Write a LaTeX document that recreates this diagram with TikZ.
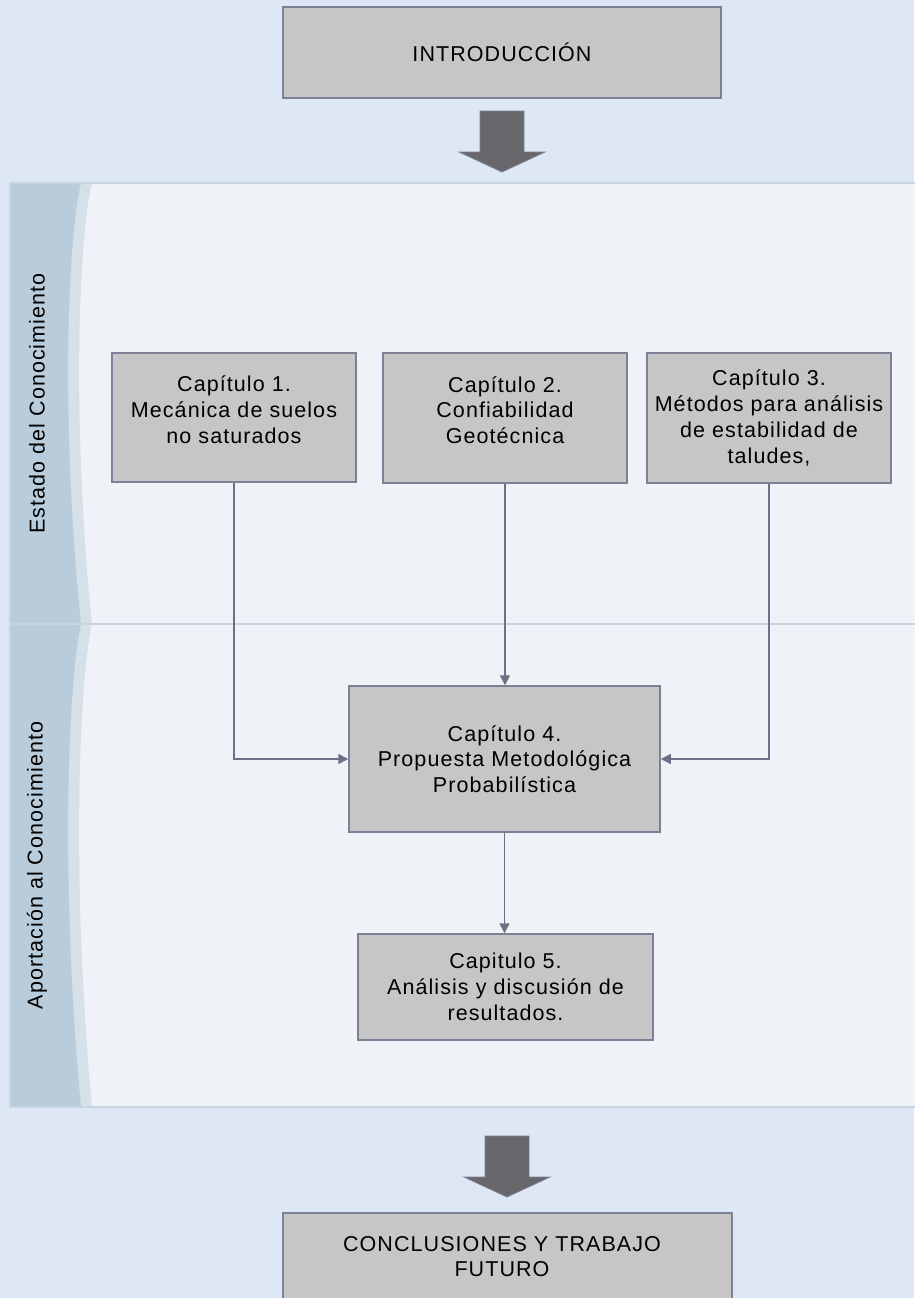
\documentclass[tikz,border=0pt]{standalone}
\usepackage{fontspec}
\setmainfont{Liberation Sans}[LetterSpace=5]
\usetikzlibrary{arrows.meta}

\definecolor{pagebg}{HTML}{DDE8F4}
\definecolor{lanebody}{HTML}{EFF3F8}
\definecolor{laneline}{HTML}{C6D5E4}
\definecolor{headcol}{HTML}{B8CCDB}
\definecolor{stripcol}{HTML}{D5E0E9}
\definecolor{boxfill}{HTML}{C6C6C6}
\definecolor{boxline}{HTML}{7E8095}
\definecolor{linkcol}{HTML}{6E7088}
\definecolor{bigarrow}{HTML}{68686C}

% curved header band on the left of a lane: #1 = top, #2 = bottom
\newcommand\laneheader[2]{%
  \pgfmathsetmacro\lh{#2-#1}%
  \pgfmathsetmacro\ca{#1+0.13*\lh}%
  \pgfmathsetmacro\cb{#1+0.56*\lh}%
  \fill[stripcol] (10,#1) -- (92,#1) .. controls (78,\ca) and (72,\cb) .. (92,#2) -- (10,#2) -- cycle;
  \fill[headcol] (10,#1) -- (81,#1) .. controls (67,\ca) and (61,\cb) .. (81,#2) -- (10,#2) -- cycle;
}

\tikzset{
  txt/.style={font=\fontsize{21.5}{25.8}\selectfont, text=black, align=center},
  chbox/.style={txt, draw=boxline, fill=boxfill, line width=1.5pt, inner sep=0pt},
  liftedtext/.style={text depth=16pt},
  link/.style={draw=linkcol, line width=1.5pt, -{Triangle[length=10pt,width=10pt]}},
  bigarrowshape/.style={fill=bigarrow, draw=boxline, line width=0.8pt},
  lanetitle/.style={txt, rotate=90}
}

\begin{document}
\begin{tikzpicture}[x=1pt, y=-1pt]
  \useasboundingbox (0,0) rectangle (914,1298);
  \fill[pagebg] (0,0) rectangle (914,1298);

  % swimlanes
  \filldraw[fill=lanebody, draw=laneline, line width=1.5pt] (10,183) rectangle (930,624);
  \filldraw[fill=lanebody, draw=laneline, line width=1.5pt] (10,624) rectangle (930,1107);
  \laneheader{183}{624}
  \laneheader{624}{1107}
  \draw[laneline, line width=1.5pt] (10,183) -- (930,183);
  \draw[laneline, line width=1.5pt] (10,624) -- (930,624);
  \draw[laneline, line width=1.5pt] (10,1107) -- (930,1107);
  \draw[laneline, line width=1.5pt] (10,183) -- (10,1107);

  \node[lanetitle] (lane1) at (37,403.5) {Estado del Conocimiento};
  \node[lanetitle] (lane2) at (37,865.5) {Aportación al Conocimiento};

  % introduction and conclusions
  \node[chbox, minimum width=438pt, minimum height=91pt] (intro) at (502,52.5) {INTRODUCCIÓN};
  \node[chbox, minimum width=449pt, minimum height=100pt, anchor=north] (concl) at (507.5,1212)
    {};
  \node[txt] (concltxt) at (502,1256.5) {CONCLUSIONES Y TRABAJO\\FUTURO};

  % big block arrows
  \filldraw[bigarrowshape] (480,111) -- (524,111) -- (524,152) -- (545,152) -- (502,172)
    -- (459,152) -- (480,152) -- cycle;
  \filldraw[bigarrowshape] (485,1136) -- (529,1136) -- (529,1177) -- (550,1177) -- (507,1197)
    -- (464,1177) -- (485,1177) -- cycle;

  % chapters
  \node[chbox, liftedtext, minimum width=244pt, minimum height=129pt] (c1) at (234,417.5)
    {Capítulo 1.\\Mecánica de suelos\\no saturados};
  \node[chbox, liftedtext, minimum width=244pt, minimum height=130pt] (c2) at (505,418)
    {Capítulo 2.\\Confiabilidad\\Geotécnica};
  \node[chbox, minimum width=244pt, minimum height=130pt] (c3) at (769,418)
    {Capítulo 3.\\Métodos para análisis\\de estabilidad de\\taludes,};
  \node[chbox, minimum width=311pt, minimum height=146pt] (c4) at (504.5,759)
    {Capítulo 4.\\Propuesta Metodológica\\Probabilística};
  \node[chbox, minimum width=295pt, minimum height=106pt] (c5) at (505.5,987)
    {Capitulo 5.\\Análisis y discusión de\\resultados.};

  % connectors
  \draw[link] (c1.south) |- (c4.west);
  \draw[link] (c3.south) |- (c4.east);
  \draw[link] (c2.south) -- (c2.south |- c4.north);
  \draw[link] (c4.south) -- (c4.south |- c5.north);
\end{tikzpicture}
\end{document}
